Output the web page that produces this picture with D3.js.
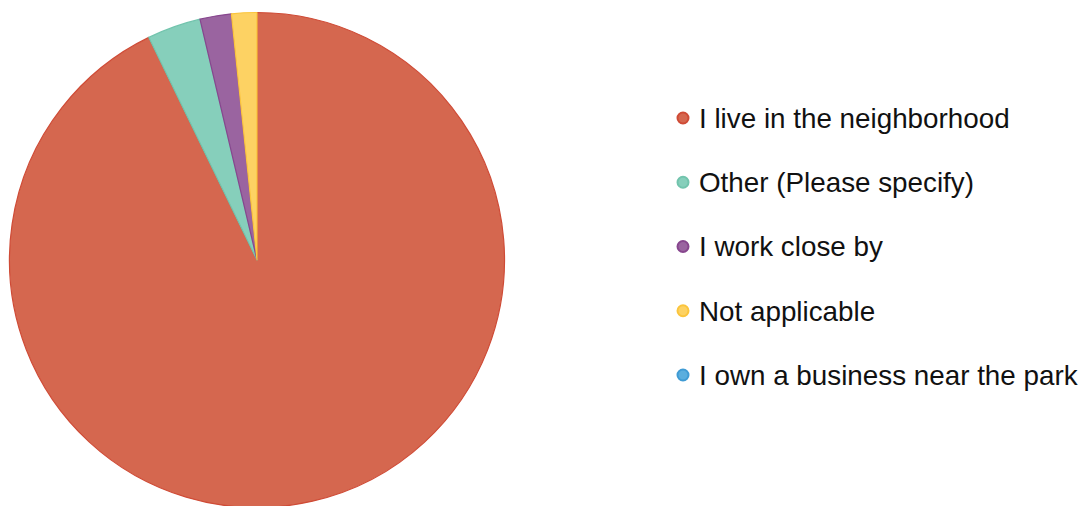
<!DOCTYPE html>
<html><head><meta charset="utf-8">
<script src="https://cdn.jsdelivr.net/npm/d3@7"></script>
<style>body{margin:0;background:#fff}svg{display:block}</style>
</head><body>
<svg id="c" width="1086" height="506"></svg>
<script>
const categories = ["I live in the neighborhood","Other (Please specify)","I work close by","Not applicable","I own a business near the park"];
const values = [92.8, 3.5, 2.05, 1.65, 0];
const fills = ["#d5674f","#86cfbb","#9a64a0","#fdd263","#5aaede"];
const strokes = ["#cf4b36","#72c4ad","#87468e","#fbc53d","#3f9bd4"];

const svg = d3.select("#c");
const cx = 257, cy = 260, r = 247.5;
const pie = d3.pie().sort(null).value(d => d.v);
const data = pie(categories.map((c,i)=>({c, v: values[i], i})));
const arc = d3.arc().innerRadius(0).outerRadius(r);
const g = svg.append("g").attr("transform",`translate(${cx},${cy})`);
g.selectAll("path").data(data.filter(d=>d.data.v>0)).join("path")
  .attr("d", arc)
  .attr("fill", d=>fills[d.data.i])
  .attr("stroke", d=>strokes[d.data.i])
  .attr("stroke-width", 1.2)
  .attr("stroke-linejoin","round");

const y = d3.scalePoint().domain(categories).range([118, 375]);
const lg = svg.append("g");
const items = lg.selectAll("g").data(categories).join("g")
  .attr("transform", d=>`translate(0,${y(d)})`);
items.append("circle").attr("cx",683).attr("cy",0).attr("r",5.5)
  .attr("fill",(d,i)=>fills[i]).attr("stroke",(d,i)=>strokes[i]).attr("stroke-width",2);
items.append("text").attr("x",699).attr("y",9.8)
  .attr("font-family","'Liberation Sans', Arial, sans-serif")
  .attr("font-size",27.8).attr("fill","#111")
  .text(d=>d);
</script>
</body></html>
